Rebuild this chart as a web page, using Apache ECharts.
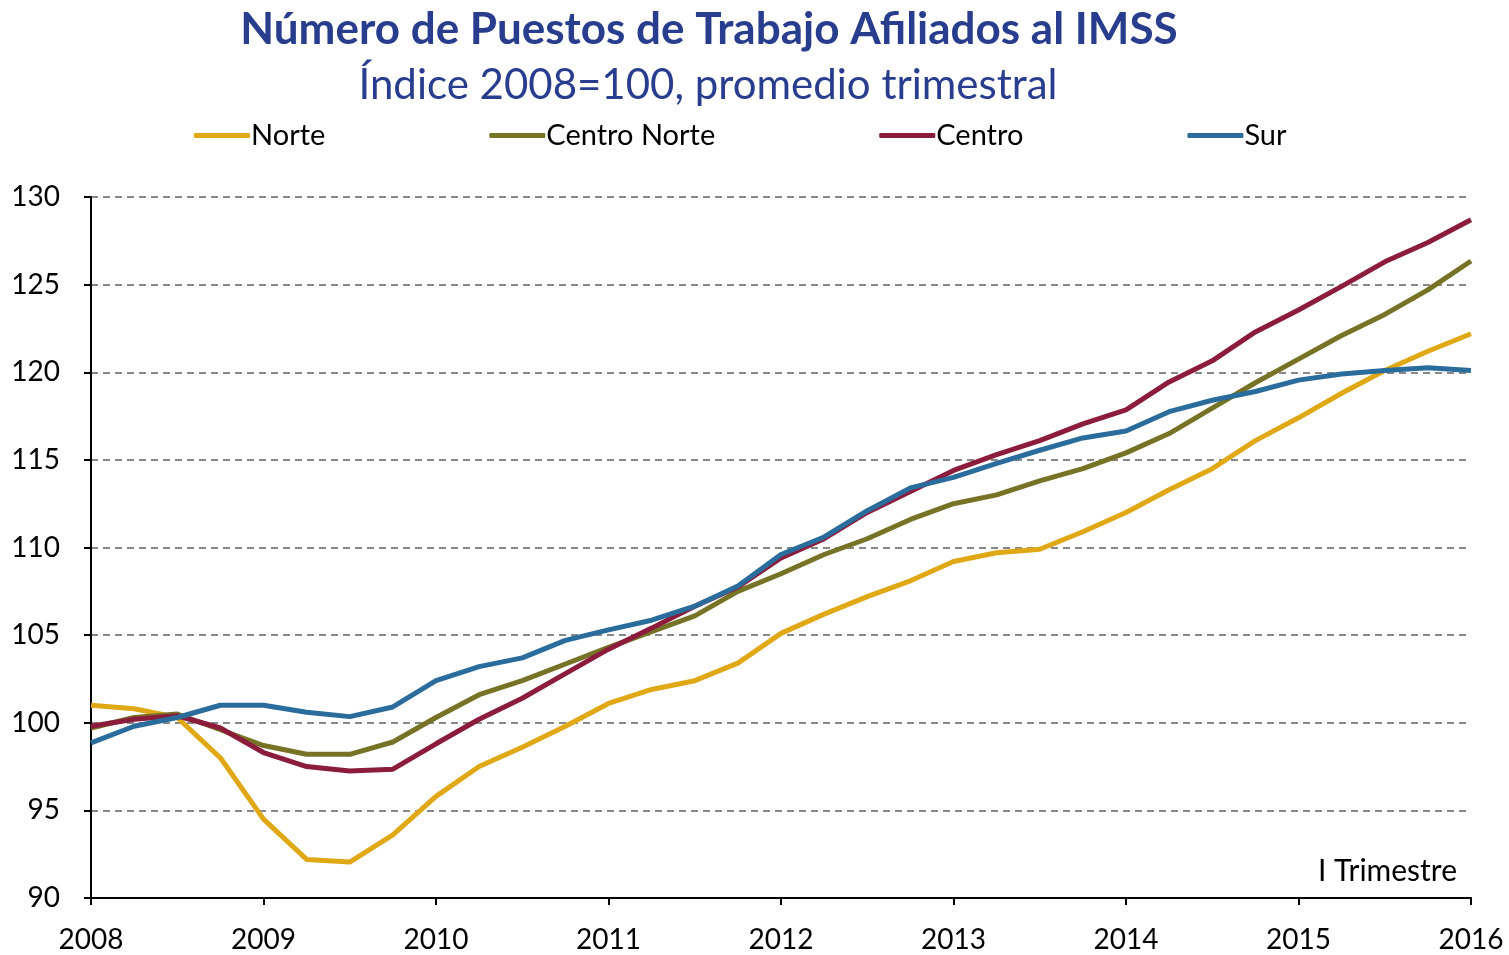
<!DOCTYPE html>
<html>
<head>
<meta charset="utf-8">
<script src="https://cdn.jsdelivr.net/npm/echarts@6/dist/echarts.min.js"></script>
<style>
  html, body { margin: 0; padding: 0; background: #fff; }
  #chart { width: 1509px; height: 955px; }
</style>
</head>
<body>
<div id="chart"></div>
<script>
// trimestres 2008-I .. 2016-I
const quarters = [
  '2008 I', '2008 II', '2008 III', '2008 IV',
  '2009 I', '2009 II', '2009 III', '2009 IV',
  '2010 I', '2010 II', '2010 III', '2010 IV',
  '2011 I', '2011 II', '2011 III', '2011 IV',
  '2012 I', '2012 II', '2012 III', '2012 IV',
  '2013 I', '2013 II', '2013 III', '2013 IV',
  '2014 I', '2014 II', '2014 III', '2014 IV',
  '2015 I', '2015 II', '2015 III', '2015 IV',
  '2016 I'
];

const norte = [101.0, 100.8, 100.3, 98.0, 94.5, 92.2, 92.05, 93.6, 95.8, 97.5, 98.6, 99.8,
  101.1, 101.9, 102.4, 103.4, 105.1, 106.2, 107.2, 108.1, 109.2, 109.7, 109.9, 110.9,
  112.0, 113.3, 114.5, 116.1, 117.4, 118.8, 120.1, 121.2, 122.2];

const centroNorte = [99.7, 100.3, 100.5, 99.6, 98.7, 98.2, 98.2, 98.9, 100.3, 101.6, 102.4, 103.35,
  104.3, 105.2, 106.1, 107.5, 108.5, 109.6, 110.5, 111.6, 112.5, 113.0, 113.8, 114.5,
  115.4, 116.5, 117.95, 119.4, 120.75, 122.1, 123.3, 124.7, 126.35];

const centro = [99.8, 100.2, 100.4, 99.7, 98.3, 97.5, 97.25, 97.35, 98.8, 100.2, 101.4, 102.8,
  104.2, 105.4, 106.65, 107.75, 109.4, 110.5, 112.0, 113.2, 114.4, 115.3, 116.1, 117.05,
  117.85, 119.45, 120.65, 122.3, 123.55, 124.9, 126.3, 127.4, 128.7];

const sur = [98.85, 99.8, 100.3, 101.0, 101.0, 100.6, 100.35, 100.9, 102.4, 103.2, 103.7, 104.7,
  105.3, 105.85, 106.65, 107.8, 109.6, 110.6, 112.1, 113.4, 114.0, 114.8, 115.55, 116.25,
  116.65, 117.75, 118.4, 118.9, 119.55, 119.9, 120.1, 120.25, 120.1];

const font = 'Lato, "Open Sans", sans-serif';
const colors = ['#E1A816', '#767326', '#8C1C3C', '#2A6D9D'];

const chart = echarts.init(document.getElementById('chart'));

const mkSeries = (name, data, color) => ({
  name,
  type: 'line',
  data,
  symbol: 'none',
  lineStyle: { width: 5, color },
  itemStyle: { color },
  animation: false
});

const option = {
  backgroundColor: '#fff',
  textStyle: { fontFamily: font },
  title: [
    {
      text: 'Número de Puestos de Trabajo Afiliados al IMSS',
      left: 704, top: 3, textAlign: 'center',
      textStyle: { fontSize: 44, fontWeight: 'bold', color: '#283D8E', fontFamily: font }
    },
    {
      text: 'Índice 2008=100, promedio trimestral',
      left: 703, top: 59, textAlign: 'center',
      textStyle: { fontSize: 42, fontWeight: 'normal', color: '#283D8E', fontFamily: font }
    }
  ],
  legend: {
    left: 189, top: 116,
    itemWidth: 56, itemHeight: 5, itemGap: 164,
    icon: 'roundRect',
    textStyle: { fontSize: 29, color: '#000', fontFamily: font, padding: [0, 0, 0, -4] },
    data: ['Norte', 'Centro Norte', 'Centro', 'Sur']
  },
  grid: { left: 91, right: 38, top: 197, bottom: 57 },
  xAxis: {
    type: 'category',
    data: quarters,
    boundaryGap: false,
    axisLine: { lineStyle: { color: '#000', width: 2 } },
    axisTick: { show: true, interval: 3, length: 7, lineStyle: { color: '#000', width: 2 } },
    axisLabel: {
      interval: 3, fontSize: 28, color: '#000', margin: 28, fontFamily: font,
      formatter: v => v.split(' ')[0]
    },
    splitLine: { show: false }
  },
  yAxis: {
    type: 'value',
    min: 90, max: 130, interval: 5,
    axisLine: { show: true, lineStyle: { color: '#000', width: 2 } },
    axisTick: { show: true, length: 7, lineStyle: { color: '#000', width: 2 } },
    axisLabel: { fontSize: 28, color: '#000', margin: 31, fontFamily: font },
    splitLine: { lineStyle: { color: '#888', width: 2, type: [7, 5] } }
  },
  graphic: [
    {
      type: 'text', right: 52, top: 856,
      style: { text: 'I Trimestre', fontSize: 30, fill: '#000', fontFamily: font }
    }
  ],
  series: [
    mkSeries('Norte', norte, colors[0]),
    mkSeries('Centro Norte', centroNorte, colors[1]),
    mkSeries('Centro', centro, colors[2]),
    mkSeries('Sur', sur, colors[3])
  ]
};

chart.setOption(option);
</script>
</body>
</html>
